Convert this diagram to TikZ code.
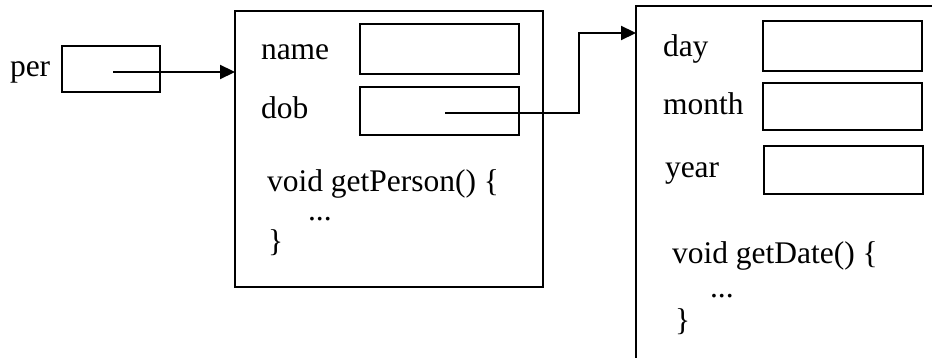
\documentclass[tikz,border=0pt]{standalone}
\usepackage{fontspec}
\setmainfont{Liberation Serif}
\usetikzlibrary{arrows.meta}
\begin{document}
\begin{tikzpicture}[x=1pt,y=-1pt,
  every node/.style={inner sep=0pt, outer sep=0pt},
  field/.style={draw, line width=2.2pt, rectangle, anchor=north west},
  obj/.style={draw, line width=2.2pt, rectangle, anchor=north west},
  lbl/.style={anchor=base west, font=\fontsize{31.5}{37}\selectfont},
  arr/.style={line width=2.2pt, -{Triangle[length=15pt,width=14pt]}}
]
\useasboundingbox (0,0) rectangle (932,358);
\fill[white] (0,0) rectangle (932,358);
\begin{scope}
\clip (0,0) rectangle (932,358);
% reference variable
\node[lbl] (perlbl) at (10,77) {per};
\node[field, minimum width=98pt, minimum height=46pt] (per) at (62,46) {};
% Person object
\node[obj, minimum width=308pt, minimum height=276pt] (box1) at (235,11) {};
\node[lbl] (namelbl) at (261,60) {name};
\node[field, minimum width=159pt, minimum height=50pt] (name) at (360,24) {};
\node[lbl] (doblbl) at (261,119) {dob};
\node[field, minimum width=159pt, minimum height=48pt] (dob) at (360,87) {};
\node[lbl] (m1) at (267,192) {void getPerson() \{};
\node[lbl] (d1) at (308,221) {...};
\node[lbl] (c1) at (268,252) {\}};
% Date object (extends beyond the picture)
\node[obj, minimum width=330pt, minimum height=390pt] (box2) at (636,6) {};
\node[lbl] (daylbl) at (663,57) {day};
\node[field, minimum width=159pt, minimum height=50pt] (day) at (763,21) {};
\node[lbl] (monthlbl) at (663,115) {month};
\node[field, minimum width=159pt, minimum height=47pt] (month) at (763,83) {};
\node[lbl] (yearlbl) at (665,178) {year};
\node[field, minimum width=159pt, minimum height=48pt] (year) at (764,146) {};
\node[lbl] (m2) at (672,263) {void getDate() \{};
\node[lbl] (d2) at (710,298) {...};
\node[lbl] (c2) at (675,330) {\}};
% pointers
\coordinate (perptr) at (113,72);
\draw[arr] (perptr) -- (perptr -| box1.west);
\coordinate (dobptr) at (445,113);
\coordinate (bend) at (579,33);
\draw[arr] (dobptr) -| (bend) -- (bend -| box2.west);
\end{scope}
\end{tikzpicture}
\end{document}
